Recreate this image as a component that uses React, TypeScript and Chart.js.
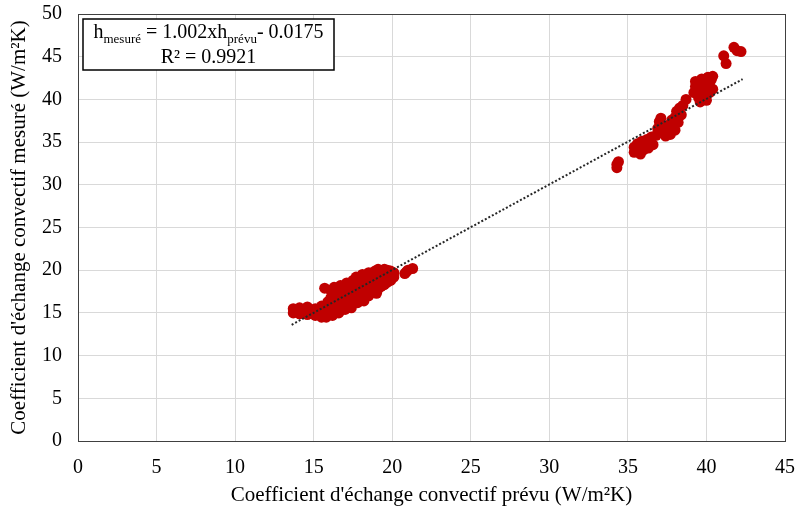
import React, { useEffect, useRef } from 'react';
import { Chart, registerables } from 'chart.js';

Chart.register(...registerables);

// Lower cluster (predicted h, measured h) in W/m²K
const lowerPredicted = [
  13.7, 13.7, 13.9, 14.1, 14.1, 14.4, 14.6, 14.6, 14.9, 15.1, 15.1, 15.3, 15.5, 15.5, 15.7, 15.7,
  15.9, 15.9, 16.1, 16.1, 16.1, 16.3, 16.3, 16.3, 16.5, 16.5, 16.5, 16.7, 16.7, 16.7, 16.9, 16.9,
  16.9, 17.1, 17.1, 17.1, 17.3, 17.3, 17.3, 17.5, 17.5, 17.5, 17.7, 17.7, 17.7, 17.7, 17.9, 17.9,
  17.9, 18.1, 18.1, 18.1, 18.1, 18.3, 18.3, 18.3, 18.5, 18.5, 18.5, 18.5, 18.7, 18.7, 18.7, 18.9,
  18.9, 18.9, 18.9, 19.1, 19.1, 19.1, 19.1, 19.3, 19.3, 19.3, 19.5, 19.5, 19.5, 19.7, 19.7, 19.7,
  19.7, 19.9, 19.9, 19.9, 20.1, 20.1, 20.8, 20.9, 21.0, 21.3,
  15.8, 16.6, 17.4, 18.2, 19.0, 16.2, 17.0, 17.8,
];
const lowerMeasured = [
  15.0, 15.5, 15.2, 14.9, 15.6, 15.3, 14.8, 15.7, 15.1, 14.7, 15.5, 15.0, 14.5, 15.8, 15.2, 17.9,
  14.8, 16.3, 15.3, 16.8, 17.6, 15.0, 16.1, 18.0, 15.4, 16.6, 17.4, 15.8, 17.0, 18.2, 15.6, 16.4,
  17.7, 16.0, 17.2, 18.5, 15.9, 16.8, 18.0, 16.3, 17.5, 18.8, 16.5, 17.1, 18.3, 19.2, 16.7, 17.8,
  18.9, 16.8, 17.4, 18.4, 19.5, 17.2, 18.1, 19.1, 17.0, 17.7, 18.7, 19.7, 17.5, 18.3, 19.3, 17.6,
  18.0, 18.9, 19.9, 17.8, 18.6, 19.5, 20.1, 18.1, 19.0, 19.8, 18.3, 19.3, 20.1, 18.6, 19.0, 19.6,
  20.0, 18.8, 19.4, 19.9, 19.2, 19.7, 19.6, 19.8, 20.0, 20.2,
  14.5, 15.0, 15.6, 16.4, 17.3, 14.7, 15.4, 16.2,
];

// Upper cluster (predicted h, measured h) in W/m²K
const upperPredicted = [
  34.3, 34.3, 34.4,
  35.4, 35.4, 35.6, 35.6, 35.8, 35.8, 35.9, 36.0, 36.1, 36.2, 36.3, 36.4, 36.5, 36.6,
  36.8, 36.9, 37.0, 37.1, 37.0, 37.2,
  37.4, 37.5, 37.6, 37.7, 37.8, 37.8, 38.0, 38.0, 38.1, 38.2, 38.3, 38.4, 38.5, 38.7,
  39.2, 39.3, 39.3, 39.5, 39.5, 39.6, 39.7, 39.8, 39.9, 40.0, 40.1, 40.2, 40.2, 40.3, 40.4, 39.6, 40.0, 40.4,
  41.1, 41.25, 41.75, 41.95, 42.2,
];
const upperMeasured = [
  32.0, 32.4, 32.7,
  33.8, 34.4, 34.0, 34.8, 33.6, 34.5, 35.1, 34.1, 34.8, 35.3, 34.3, 35.0, 35.6, 34.7,
  35.8, 36.6, 37.4, 37.8, 36.1, 36.9,
  35.7, 36.3, 37.0, 35.9, 36.6, 37.6, 36.4, 37.9, 38.6, 37.3, 39.0, 38.2, 39.3, 40.0,
  40.8, 41.5, 42.1, 40.2, 41.0, 41.9, 42.4, 40.5, 41.3, 42.0, 42.6, 40.8, 41.6, 42.3, 42.7, 39.7, 39.9, 41.2,
  45.1, 44.2, 46.1, 45.7, 45.6,
];

// Linear trend line (from the fitted equation shown in the chart)
const trendSlope = 1.002;
const trendIntercept = -0.0175;
const trendRange = [13.6, 42.3];

const xAxisTitle = "Coefficient d'échange convectif prévu (W/m²K)";
const yAxisTitle = "Coefficient d'échange convectif mesuré (W/m²K)";
const eqLine2 = 'R² = 0.9921';

const FONT = '"Liberation Serif", "Times New Roman", serif';

const framePlugin = {
  id: 'frame',
  beforeDatasetsDraw(chart: any) {
    const { ctx, chartArea } = chart;
    ctx.save();
    ctx.strokeStyle = '#404040';
    ctx.lineWidth = 1;
    ctx.strokeRect(
      Math.round(chartArea.left) + 0.5,
      Math.round(chartArea.top) + 0.5,
      Math.round(chartArea.right - chartArea.left),
      Math.round(chartArea.bottom - chartArea.top)
    );
    ctx.restore();
  },
};

const equationPlugin = {
  id: 'equation',
  afterDraw(chart: any) {
    const { ctx, chartArea } = chart;
    const bx = chartArea.left + 5;
    const by = chartArea.top + 5;
    const bw = 251;
    const bh = 51;
    ctx.save();
    ctx.fillStyle = '#ffffff';
    ctx.fillRect(bx, by, bw, bh);
    ctx.strokeStyle = '#000000';
    ctx.lineWidth = 1.5;
    ctx.strokeRect(bx, by, bw, bh);

    const big = `20px ${FONT}`;
    const small = `13px ${FONT}`;
    const segs: [string, boolean][] = [
      ['h', false],
      ['mesuré', true],
      [' = 1.002xh', false],
      ['prévu', true],
      ['- 0.0175', false],
    ];
    let total = 0;
    for (const [t, sub] of segs) {
      ctx.font = sub ? small : big;
      total += ctx.measureText(t).width;
    }
    let x = bx + (bw - total) / 2;
    const base1 = by + 19;
    ctx.fillStyle = '#000000';
    ctx.textBaseline = 'alphabetic';
    ctx.textAlign = 'left';
    for (const [t, sub] of segs) {
      ctx.font = sub ? small : big;
      ctx.fillText(t, x, sub ? base1 + 5 : base1);
      x += ctx.measureText(t).width;
    }
    ctx.font = big;
    const w2 = ctx.measureText(eqLine2).width;
    ctx.fillText(eqLine2, bx + (bw - w2) / 2, by + 44);
    ctx.restore();
  },
};

export default function App() {
  const canvasRef = useRef<HTMLCanvasElement | null>(null);

  useEffect(() => {
    const canvas = canvasRef.current;
    if (!canvas) return;
    const measured = [
      ...lowerPredicted.map((x, i) => ({ x, y: lowerMeasured[i] })),
      ...upperPredicted.map((x, i) => ({ x, y: upperMeasured[i] })),
    ];
    const trend = trendRange.map((x) => ({ x, y: trendSlope * x + trendIntercept }));

    const chart = new Chart(canvas, {
      type: 'scatter',
      data: {
        datasets: [
          {
            type: 'line',
            label: 'Linéaire',
            data: trend,
            borderColor: '#262626',
            borderWidth: 2,
            borderDash: [2, 2],
            pointRadius: 0,
            fill: false,
          } as any,
          {
            label: 'h mesuré',
            data: measured,
            backgroundColor: '#C00000',
            borderColor: '#C00000',
            borderWidth: 0,
            pointRadius: 5.5,
          },
        ],
      },
      options: {
        animation: false,
        responsive: false,
        devicePixelRatio: 1,
        layout: { padding: { top: 2, right: 0, left: 0, bottom: 0 } },
        plugins: {
          legend: { display: false },
          tooltip: { enabled: false },
        },
        scales: {
          x: {
            type: 'linear',
            min: 0,
            max: 45,
            afterFit: (s: any) => {
              s.height = 67;
            },
            ticks: {
              stepSize: 5,
              color: '#000000',
              font: { family: FONT, size: 20 },
              padding: 15,
              maxRotation: 0,
            },
            grid: { color: '#d9d9d9', drawTicks: false, lineWidth: 1 },
            border: { display: true, color: '#404040', width: 1 },
            title: {
              display: true,
              text: xAxisTitle,
              color: '#000000',
              font: { family: FONT, size: 21 },
              padding: { top: 0, bottom: 0 },
            },
          },
          y: {
            type: 'linear',
            min: 0,
            max: 50,
            afterFit: (s: any) => {
              s.width = 78;
            },
            ticks: {
              stepSize: 5,
              color: '#000000',
              font: { family: FONT, size: 20 },
              padding: 16,
            },
            grid: { color: '#d9d9d9', drawTicks: false, lineWidth: 1 },
            border: { display: true, color: '#404040', width: 1 },
            title: {
              display: true,
              text: yAxisTitle,
              color: '#000000',
              font: { family: FONT, size: 21 },
              padding: { top: 7, bottom: 0 },
            },
          },
        },
      },
      plugins: [framePlugin, equationPlugin],
    });
    return () => chart.destroy();
  }, []);

  return (
    <div
      style={{
        position: 'fixed',
        left: 0,
        top: 0,
        width: 795,
        height: 508,
        overflow: 'hidden',
        background: '#ffffff',
      }}
    >
      <canvas
        ref={canvasRef}
        width={810}
        height={522}
        style={{ display: 'block', marginTop: -14 }}
      />
    </div>
  );
}
